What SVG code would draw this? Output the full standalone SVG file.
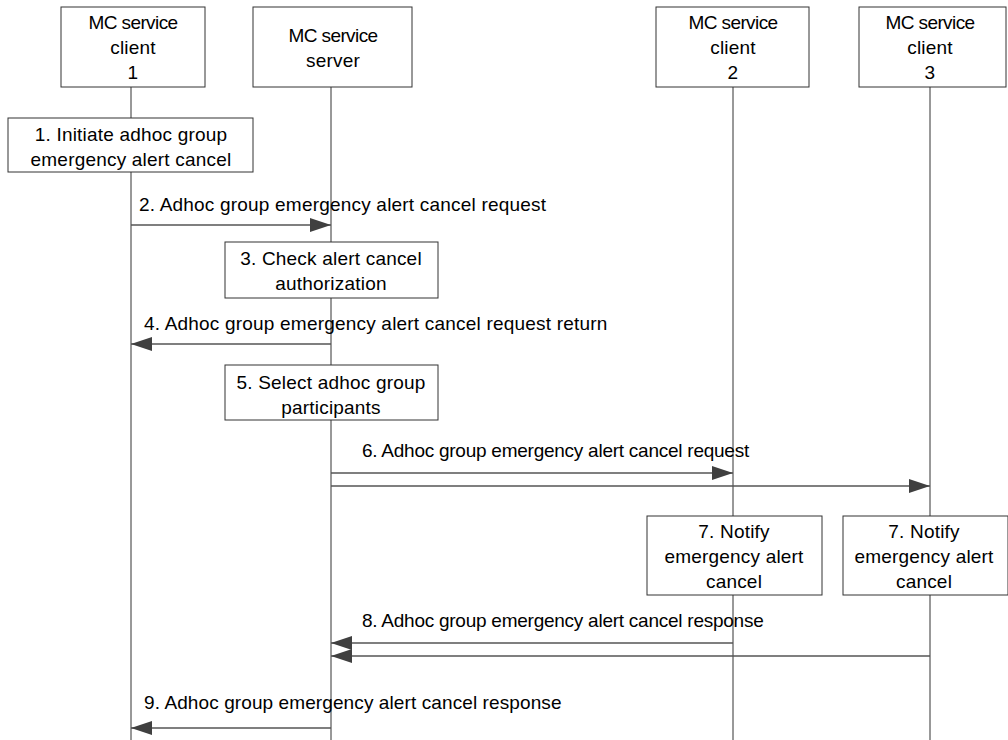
<svg xmlns="http://www.w3.org/2000/svg" width="1008" height="740" viewBox="0 0 1008 740">
<style>
.box{fill:#fff;stroke:#333;stroke-width:1}
.life{stroke:#333;stroke-width:1;fill:none}
.msg{stroke:#555;stroke-width:1.3;fill:none}
text{font-family:"Liberation Sans",Arial,sans-serif;font-size:19px;letter-spacing:0.2px;fill:#000}
.c{text-anchor:middle}
.t{letter-spacing:-0.6px}
.n{letter-spacing:-0.25px}
</style>
<defs>
<marker id="ah" markerUnits="userSpaceOnUse" markerWidth="22" markerHeight="14" refX="21" refY="7" orient="auto">
<path d="M0,0 L21,7 L0,14 Z" fill="#404040"/>
</marker>
</defs>
<g id="lifelines">
<line class="life" x1="131" y1="87" x2="131" y2="740"/>
<line class="life" x1="331" y1="87" x2="331" y2="740"/>
<line class="life" x1="733" y1="87" x2="733" y2="740"/>
<line class="life" x1="930" y1="87" x2="930" y2="740"/>
</g>
<g id="client1"><rect class="box" x="61" y="7" width="144" height="80"/>
<text class="c t" x="133" y="29">MC service</text><text class="c" x="133" y="54">client</text><text class="c" x="133" y="79">1</text></g>
<g id="server"><rect class="box" x="253" y="7" width="159" height="80"/>
<text class="c t" x="333" y="42">MC service</text><text class="c" x="333" y="67">server</text></g>
<g id="client2"><rect class="box" x="656" y="7" width="153" height="80"/>
<text class="c t" x="733" y="29">MC service</text><text class="c" x="733" y="54">client</text><text class="c" x="733" y="79">2</text></g>
<g id="client3"><rect class="box" x="859" y="7" width="147" height="80"/>
<text class="c t" x="930" y="29">MC service</text><text class="c" x="930" y="54">client</text><text class="c" x="930" y="79">3</text></g>
<g id="step1"><rect class="box" x="8" y="118" width="245" height="54"/>
<text class="c" x="131" y="141">1. Initiate adhoc group</text><text class="c" x="131" y="166">emergency alert cancel</text></g>
<g id="step3"><rect class="box" x="225" y="242" width="213" height="56"/>
<text class="c" x="331" y="265">3. Check alert cancel</text><text class="c" x="331" y="290">authorization</text></g>
<g id="step5"><rect class="box" x="225" y="365" width="213" height="55"/>
<text class="c" x="331" y="389">5. Select adhoc group</text><text class="c" x="331" y="414">participants</text></g>
<g id="step7a"><rect class="box" x="647" y="516" width="175" height="79"/>
<text class="c" x="734" y="538">7. Notify</text><text class="c" x="734" y="563">emergency alert</text><text class="c" x="734" y="588">cancel</text></g>
<g id="step7b"><rect class="box" x="843" y="516" width="165" height="79"/>
<text class="c" x="924" y="538">7. Notify</text><text class="c" x="924" y="563">emergency alert</text><text class="c" x="924" y="588">cancel</text></g>
<g id="connectors">
<line class="msg" x1="131" y1="225" x2="331" y2="225" marker-end="url(#ah)"/>
<line class="msg" x1="331" y1="344" x2="131" y2="344" marker-end="url(#ah)"/>
<line class="msg" x1="331" y1="473" x2="733" y2="473" marker-end="url(#ah)"/>
<line class="msg" x1="331" y1="486" x2="930" y2="486" marker-end="url(#ah)"/>
<line class="msg" x1="733" y1="643" x2="331" y2="643" marker-end="url(#ah)"/>
<line class="msg" x1="930" y1="656" x2="331" y2="656" marker-end="url(#ah)"/>
<line class="msg" x1="331" y1="728" x2="131" y2="728" marker-end="url(#ah)"/>
</g>
<g id="labels">
<text x="139" y="211">2. Adhoc group emergency alert cancel request</text>
<text x="144" y="330">4. Adhoc group emergency alert cancel request return</text>
<text class="n" x="362" y="457">6. Adhoc group emergency alert cancel request</text>
<text class="n" x="362" y="627">8. Adhoc group emergency alert cancel response</text>
<text x="144" y="709" style="letter-spacing:0.1px">9. Adhoc group emergency alert cancel response</text>
</g>
</svg>
